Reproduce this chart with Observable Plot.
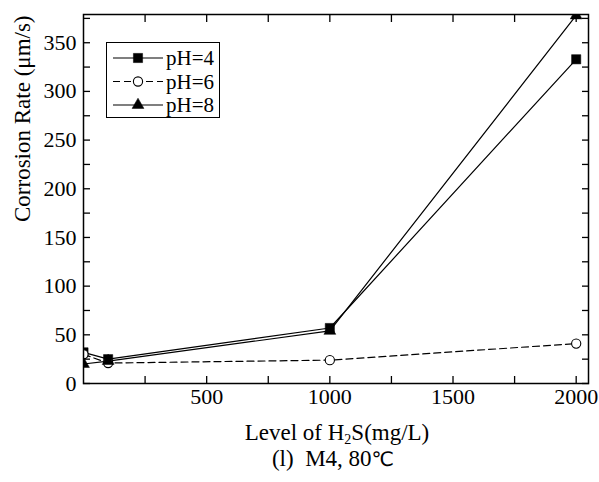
<!DOCTYPE html>
<html><head><meta charset="utf-8">
<script src="https://cdn.jsdelivr.net/npm/d3@7"></script>
<script src="https://cdn.jsdelivr.net/npm/@observablehq/plot@0.6"></script>
<style>
body{margin:0;background:#fff;}
#wrap{position:relative;width:599px;height:482px;font-family:"Liberation Serif","Times New Roman",serif;color:#000;background:#fff;}
#wrap svg{display:block;}
.lbl{position:absolute;font-size:23px;line-height:26px;white-space:nowrap;text-align:center;}
.lbl sub{font-size:14px;vertical-align:-4px;line-height:0;}
#legend{position:absolute;left:106px;top:42px;width:112px;height:74px;border:1.3px solid #000;background:#fff;}
#legend svg{overflow:visible;}
</style></head><body><div id="wrap"></div>
<script>
// H2S level (mg/L)
const levels = [0, 100, 1000, 2000];
// corrosion rate (μm/s)
const pH4 = [32, 25, 57, 333];
const pH6 = [30, 21, 24, 41];
const pH8 = [20, 23, 54, 378];
const seriesNames = ["pH=4", "pH=6", "pH=8"];
const xTicks = [250, 500, 750, 1000, 1250, 1500, 1750, 2000];
const xLabels = [500, 1000, 1500, 2000];
const yTicks = [0, 25, 50, 75, 100, 125, 150, 175, 200, 225, 250, 275, 300, 325, 350, 375];
const yLabels = [0, 50, 100, 150, 200, 250, 300, 350];
const yTitle = "Corrosion Rate (μm/s)";

const styles = [
  {values: pH4, symbol: "square", r: 5.2, fill: "black", dash: null},
  {values: pH6, symbol: "circle", r: 4.6, fill: "white", dash: "7,4"},
  {values: pH8, symbol: "triangle", r: 4.4, fill: "black", dash: null}
];
const series = styles.map((s, k) => ({
  ...s, name: seriesNames[k],
  rows: levels.map((x, i) => ({x, y: s.values[i], series: seriesNames[k]}))
}));

const marks = [];
for (const s of series) {
  marks.push(Plot.line(s.rows, {x: "x", y: "y", stroke: "black", strokeWidth: 1.2, strokeDasharray: s.dash, clip: true}));
}
for (const s of series) {
  marks.push(Plot.dot(s.rows, {x: "x", y: "y", symbol: () => s.symbol, r: s.r, fill: s.fill, stroke: "black", strokeWidth: s.fill === "white" ? 1.1 : 0.5, clip: true}));
}
marks.push(
  Plot.axisX({anchor: "bottom", ticks: xTicks, tickSize: -7, tickPadding: 12, strokeWidth: 1.3, label: null,
    tickFormat: d => xLabels.includes(d) ? String(d) : ""}),
  Plot.axisX({anchor: "top", ticks: xTicks, tickSize: -7, strokeWidth: 1.3, label: null, tickFormat: () => ""}),
  Plot.axisY({anchor: "left", ticks: yTicks, tickSize: -7, tickPadding: 14, strokeWidth: 1.3, label: null,
    tickFormat: d => yLabels.includes(d) ? String(d) : ""}),
  Plot.axisY({anchor: "right", ticks: yTicks, tickSize: -7, strokeWidth: 1.3, label: null, tickFormat: () => ""}),
  Plot.frame({stroke: "black", strokeWidth: 1.5}),
  Plot.text([yTitle], {text: d => d, frameAnchor: "left", rotate: -90, dx: -61, dy: 23, fontSize: 23})
);

const chart = Plot.plot({
  width: 599, height: 415,
  marginTop: 14, marginLeft: 83, marginRight: 11, marginBottom: 32,
  x: {domain: [0, 2050]},
  y: {domain: [0, 379]},
  style: {fontFamily: "'Liberation Serif', 'Times New Roman', serif", fontSize: "22px", color: "black", background: "white", overflow: "visible"},
  marks
});

const wrap = document.getElementById("wrap");
wrap.appendChild(chart);

const xl = document.createElement("div");
xl.className = "lbl";
xl.style.left = "237px"; xl.style.width = "200px"; xl.style.top = "420px";
xl.innerHTML = "Level of H<sub>2</sub>S(mg/L)";
wrap.appendChild(xl);

const cap = document.createElement("div");
cap.className = "lbl";
cap.style.left = "233px"; cap.style.width = "200px"; cap.style.top = "446px";
cap.innerHTML = "(l)&nbsp; M4, 80<span style=\"font-family:'DejaVu Sans',sans-serif;font-size:20px\">℃</span>";
wrap.appendChild(cap);

// legend
const leg = d3.select(wrap).append("div").attr("id", "legend");
const lsvg = leg.append("svg").attr("width", 112).attr("height", 74);
const symMap = {square: d3.symbolSquare, circle: d3.symbolCircle, triangle: d3.symbolTriangle};
series.forEach((s, k) => {
  const cy = 15 + k * 23.5;
  const g = lsvg.append("g");
  g.append("line").attr("x1", 6).attr("x2", 56).attr("y1", cy).attr("y2", cy)
    .attr("stroke", "black").attr("stroke-width", 1.2).attr("stroke-dasharray", s.dash);
  g.append("path").attr("transform", `translate(31,${cy})`)
    .attr("d", d3.symbol(symMap[s.symbol], Math.PI * s.r * s.r)())
    .attr("fill", s.fill).attr("stroke", "black").attr("stroke-width", s.fill === "white" ? 1.1 : 0.5);
  g.append("text").attr("x", 59).attr("y", cy).attr("dy", "0.35em")
    .attr("font-family", "'Liberation Serif', serif").attr("font-size", 21).text(s.name);
});
</script>
</body></html>
